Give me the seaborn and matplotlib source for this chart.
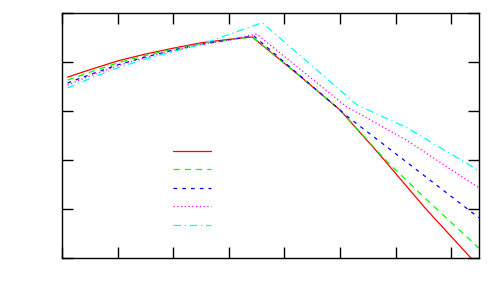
import matplotlib
matplotlib.use("Agg")
import matplotlib.pyplot as plt
import seaborn as sns

# series data (x, y)
red_x = [0.1, 0.5, 1.0, 1.5, 2.0, 2.5, 3.0, 3.42, 4.28, 5.0, 5.72, 6.53, 7.5]
red_y = [3.69, 3.84, 4.02, 4.16, 4.28, 4.39, 4.46, 4.51, 3.71, 3.02, 2.10, 1.02, -0.18]

green_x = [0.1, 0.5, 1.0, 1.5, 2.0, 2.5, 3.0, 3.42, 4.28, 5.0, 5.85, 6.53, 7.5]
green_y = [3.63, 3.79, 3.98, 4.13, 4.26, 4.37, 4.45, 4.51, 3.71, 3.02, 1.96, 1.22, 0.20]

blue_x = [0.1, 0.5, 1.0, 1.5, 2.0, 2.5, 3.0, 3.45, 4.28, 5.14, 7.5]
blue_y = [3.57, 3.74, 3.94, 4.10, 4.24, 4.36, 4.45, 4.53, 3.72, 2.88, 0.82]

magenta_x = [0.1, 0.5, 1.0, 1.5, 2.0, 2.5, 3.0, 3.5, 5.1, 6.2, 7.5]
magenta_y = [3.53, 3.71, 3.92, 4.09, 4.23, 4.35, 4.45, 4.57, 3.10, 2.40, 1.43]

cyan_x = [0.1, 0.5, 1.0, 1.5, 2.0, 2.5, 3.0, 3.6, 5.31, 6.2, 7.5]
cyan_y = [3.47, 3.66, 3.88, 4.06, 4.21, 4.36, 4.56, 4.80, 3.12, 2.66, 1.78]

x_ticks = [0, 1, 2, 3, 4, 5, 6, 7]
y_ticks = [0, 1, 2, 3, 4, 5]

series = [
    (red_x, red_y, "#ff0000", "-"),
    (green_x, green_y, "#00ff00", (0, (5, 4))),
    (blue_x, blue_y, "#0000ff", (0, (3, 4))),
    (magenta_x, magenta_y, "#ff00ff", (0, (1, 2))),
    (cyan_x, cyan_y, "#00ffff", (0, (6, 3, 1, 3))),
]

sns.set_style("white")
fig = plt.figure(figsize=(5, 3), dpi=100)
ax = fig.add_axes([0.124, 0.14, 0.834, 0.817])

for xs, ys, color, ls in series:
    sns.lineplot(x=xs, y=ys, color=color, linestyle=ls, linewidth=0.9,
                 label=" ", ax=ax, sort=False)

ax.set_xlim(0, 7.5)
ax.set_ylim(0, 5)
ax.set_xticks(x_ticks)
ax.set_yticks(y_ticks)
ax.set_xticklabels([])
ax.set_yticklabels([])
ax.tick_params(direction="in", length=8, width=1, top=True, right=True,
               bottom=True, left=True, color="black")
for sp in ax.spines.values():
    sp.set_color("black")
    sp.set_linewidth(1)

ax.legend(frameon=False, loc="upper left", bbox_to_anchor=(0.267, 0.463),
          handlelength=2.7, handletextpad=0, labelspacing=0.33,
          borderpad=0, borderaxespad=0, fontsize=10)

fig.savefig("out.png", dpi=100)
